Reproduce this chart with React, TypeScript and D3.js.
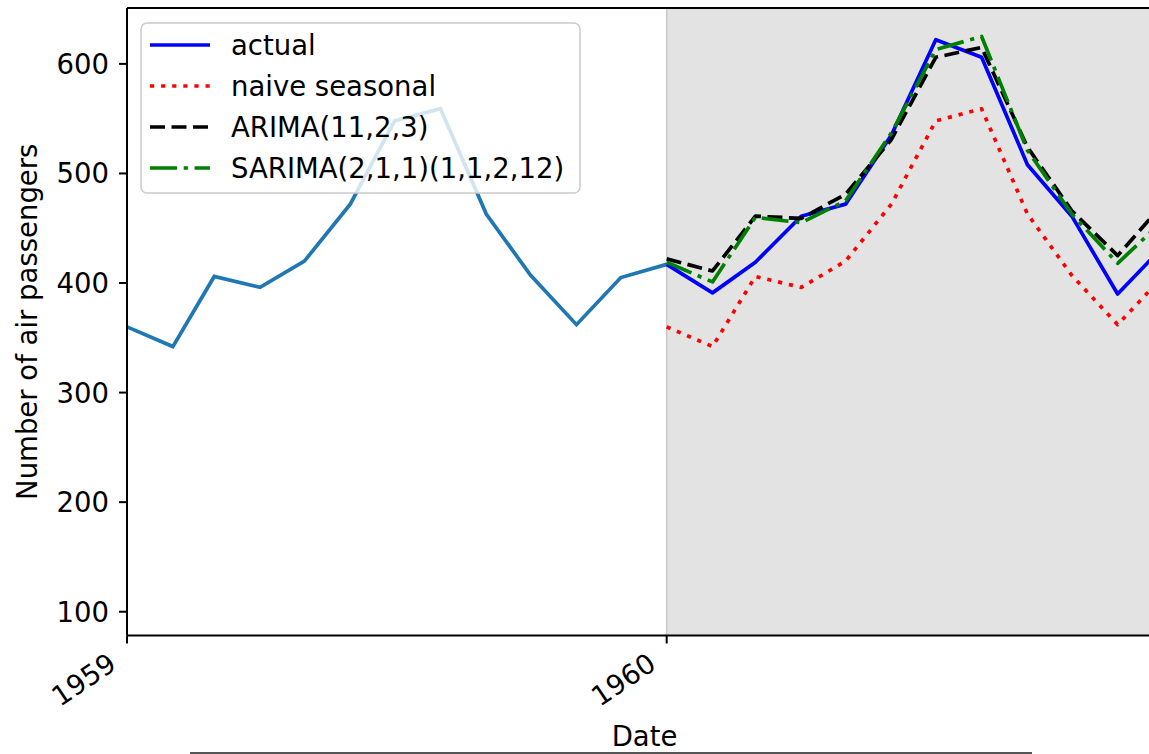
import React from "react";
import * as d3 from "d3";

// Monthly air passengers, 1959 history plus the 1960 hold-out period
const historyMonths = [
  "1959-01", "1959-02", "1959-03", "1959-04", "1959-05", "1959-06",
  "1959-07", "1959-08", "1959-09", "1959-10", "1959-11", "1959-12", "1960-01",
];
const historyValues = [360, 342, 406, 396, 420, 472, 548, 559, 463, 407, 362, 405, 417];

const testMonths = [
  "1960-01", "1960-02", "1960-03", "1960-04", "1960-05", "1960-06",
  "1960-07", "1960-08", "1960-09", "1960-10", "1960-11", "1960-12",
];
const actualValues = [417, 391, 419, 461, 472, 535, 622, 606, 508, 461, 390, 432];
const naiveSeasonalValues = [360, 342, 406, 396, 420, 472, 548, 559, 463, 407, 362, 405];
const arimaValues = [422, 411, 461, 459, 481, 531, 606, 615, 524, 466, 425, 471];
const sarimaValues = [419, 401, 460, 455, 475, 537, 613, 625, 521, 463, 418, 456];

const yTicks = [100, 200, 300, 400, 500, 600];
const xTickYears = ["1959", "1960"];

const seriesLabels = ["actual", "naive seasonal", "ARIMA(11,2,3)", "SARIMA(2,1,1)(1,1,2,12)"];

const W = 1149;
const H = 754;
const FONT = "'DejaVu Sans', sans-serif";
const FS = 27.5;

const parse = (s: string) => {
  const [y, m] = s.split("-").map(Number);
  return new Date(Date.UTC(y, m - 1, 1));
};

export default function App() {
  const left = 127;
  const right = 1162;
  const top = 8;
  const bottom = 635.5;

  const x = d3
    .scaleUtc()
    .domain([parse("1959-01"), parse("1960-12")])
    .range([left, right]);
  const y = d3.scaleLinear().domain([78.3, 651]).range([bottom, top]);

  const line = d3
    .line<[Date, number]>()
    .x((d) => x(d[0]))
    .y((d) => y(d[1]));

  const zip = (ms: string[], vs: number[]) =>
    ms.map((m, i) => [parse(m), vs[i]] as [Date, number]);

  const shadeStart = x(parse("1960-01"));

  const styles = [
    { color: "#0000ff", dash: undefined as string | undefined },
    { color: "#ff0000", dash: "4.2,6.9" },
    { color: "#000000", dash: "15,6.5" },
    { color: "#008000", dash: "27,6.7,4.2,6.7" },
  ];
  const seriesValues = [actualValues, naiveSeasonalValues, arimaValues, sarimaValues];
  const drawOrder = [1, 0, 2, 3];

  return (
    <svg
      width={W}
      height={H}
      style={{ position: "absolute", left: 0, top: 0, background: "#fff" }}
      fontFamily={FONT}
    >
      <defs>
        <clipPath id="plot">
          <rect x={left} y={top} width={right - left + 40} height={bottom - top} />
        </clipPath>
      </defs>

      {/* forecast window shading */}
      <rect x={shadeStart} y={top} width={W - shadeStart + 40} height={bottom - top} fill="#e3e3e3" />
      <line x1={shadeStart} x2={shadeStart} y1={top} y2={bottom} stroke="#c8c8c8" strokeWidth={1.5} />

      <g clipPath="url(#plot)" fill="none" strokeWidth={3.7}>
        <path d={line(zip(historyMonths, historyValues)) || ""} stroke="#1f77b4" />
        {drawOrder.map((i) => (
          <path
            key={i}
            d={line(zip(testMonths, seriesValues[i])) || ""}
            stroke={styles[i].color}
            strokeDasharray={styles[i].dash}
            strokeLinejoin="round"
          />
        ))}
      </g>

      {/* spines */}
      <line x1={left} x2={W + 10} y1={top} y2={top} stroke="#000" strokeWidth={2} />
      <line x1={left} x2={W + 10} y1={bottom} y2={bottom} stroke="#000" strokeWidth={2} />
      <line x1={left} x2={left} y1={top} y2={bottom} stroke="#000" strokeWidth={2} />

      {/* y axis */}
      {yTicks.map((t) => (
        <g key={t}>
          <line x1={left - 8} x2={left} y1={y(t)} y2={y(t)} stroke="#000" strokeWidth={2} />
          <text x={left - 18} y={y(t) + 10} textAnchor="end" fontSize={FS} fill="#000">
            {t}
          </text>
        </g>
      ))}
      <text
        transform={`translate(37, ${(top + bottom) / 2}) rotate(-90)`}
        textAnchor="middle"
        fontSize={FS}
        fill="#000"
      >
        Number of air passengers
      </text>

      {/* x axis */}
      {xTickYears.map((yr) => {
        const tx = x(parse(`${yr}-01`));
        return (
          <g key={yr}>
            <line x1={tx} x2={tx} y1={bottom} y2={bottom + 8} stroke="#000" strokeWidth={2} />
            <text
              transform={`translate(${tx - 9}, 668) rotate(-34)`}
              textAnchor="end"
              fontSize={FS}
              fill="#000"
            >
              {yr}
            </text>
          </g>
        );
      })}
      <text x={(left + right) / 2} y={746} textAnchor="middle" fontSize={FS} fill="#000">
        Date
      </text>

      {/* legend */}
      <g>
        <rect x={141} y={23} width={439} height={170} rx={6} fill="#fff" fillOpacity={0.8} stroke="#cccccc" strokeWidth={1.5} />
        {seriesLabels.map((lab, i) => {
          const cy = 45 + i * 41;
          return (
            <g key={lab}>
              <line
                x1={150}
                x2={210}
                y1={cy}
                y2={cy}
                stroke={styles[i].color}
                strokeWidth={3.7}
                strokeDasharray={styles[i].dash}
              />
              <text x={231} y={cy + 10} fontSize={FS} fill="#000">
                {lab}
              </text>
            </g>
          );
        })}
      </g>

      {/* rule under the axis title */}
      <line x1={190} x2={1032} y1={753} y2={753} stroke="#555" strokeWidth={2} />
    </svg>
  );
}
